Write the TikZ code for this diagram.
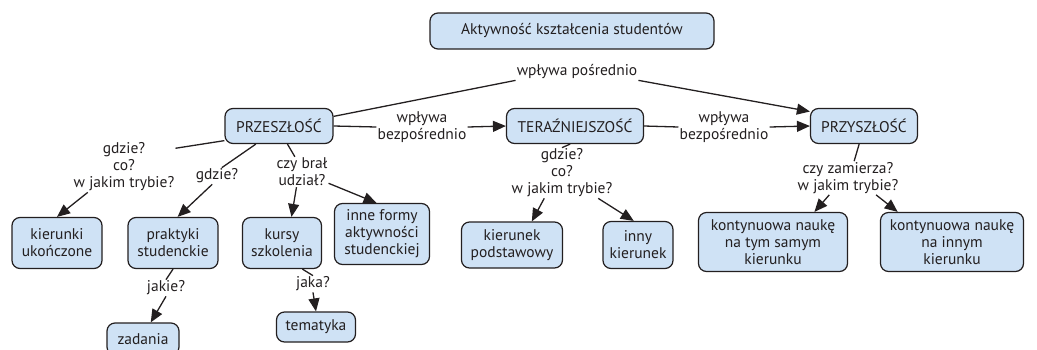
\documentclass[tikz,border=0pt]{standalone}
\usepackage{fontspec}
\setmainfont{PT Sans}
\usepackage{xcolor}
\usetikzlibrary{arrows.meta}
\definecolor{boxblue}{RGB}{207,226,245}
\definecolor{linegray}{RGB}{35,31,32}

\begin{document}
\begin{tikzpicture}[
    x=1pt, y=-1pt,
    every node/.style={font=\fontsize{15.5}{17}\selectfont, text=linegray},
    box/.style={draw=linegray, fill=boxblue, line width=1.2pt, rounded corners=8pt, align=center, inner sep=2pt},
    lab/.style={align=center, inner sep=1pt},
    link/.style={draw=linegray, line width=1.3pt},
    arr/.style={link, -{Triangle[length=13pt,width=11pt]}}
]
\useasboundingbox (0,0) rectangle (1037,349);
% boxes
\node[box, minimum width=284pt, minimum height=36pt] (top) at (572,31) {Aktywność kształcenia studentów};
\node[box, minimum width=108pt, minimum height=35pt] (prz) at (279,126) {PRZESZŁOŚĆ};
\node[box, minimum width=137pt, minimum height=35pt] (ter) at (575,126) {TERAŹNIEJSZOŚĆ};
\node[box, minimum width=107pt, minimum height=35pt] (przy) at (864,126) {PRZYSZŁOŚĆ};
\node[box, minimum width=90pt, minimum height=51pt] (kier) at (57,243) {kierunki\\ukończone};
\node[box, minimum width=90pt, minimum height=51pt] (prakt) at (173,243) {praktyki\\studenckie};
\node[box, minimum width=79pt, minimum height=51pt] (kursy) at (282,243) {kursy\\szkolenia};
\node[box, minimum width=95pt, minimum height=61pt] (inne) at (382,234) {inne formy\\aktywności\\studenckiej};
\node[box, minimum width=72pt, minimum height=32pt] (zad) at (143,339) {zadania};
\node[box, minimum width=79pt, minimum height=30pt] (tem) at (316,327) {tematyka};
\node[box, minimum width=101pt, minimum height=46pt] (kpod) at (512,245) {kierunek\\podstawowy};
\node[box, minimum width=70pt, minimum height=47pt] (inny) at (638,245) {inny\\kierunek};
\node[box, minimum width=149pt, minimum height=59pt] (kont1) at (773,242) {kontynuowa naukę\\na tym samym\\kierunku};
\node[box, minimum width=143pt, minimum height=59pt] (kont2) at (952,242) {kontynuowa naukę\\na innym\\kierunku};
% labels
\node[lab] (lposr) at (577,72) {wpływa pośrednio};
\node[lab] (lbez1) at (422,127) {wpływa\\bezpośrednio};
\node[lab] (lbez2) at (724,127) {wpływa\\bezpośrednio};
\node[lab] (lgco1) at (124,167) {gdzie?\\co?\\w jakim trybie?};
\node[lab] (lgdz) at (217,176) {gdzie?};
\node[lab] (lczy) at (302,172) {czy brał\\udział?};
\node[lab] (ljakie) at (166,288) {jakie?};
\node[lab] (ljaka) at (313,284) {jaka?};
\node[lab] (lgco2) at (562,173) {gdzie?\\co?\\w jakim trybie?};
\node[lab] (lzam) at (848,178) {czy zamierza?\\w jakim trybie?};
% connectors
\draw[link] (prz.10) -- (lposr.south west);
\draw[arr] (lposr.south east) -- (przy.165);
\draw[link] (prz.east) -- (lbez1.west);
\draw[arr] (lbez1.east) -- (ter.west);
\draw[link] (ter.east) -- (lbez2.west);
\draw[arr] (lbez2.east) -- (przy.west);
\draw[link] (prz.195) -- (lgco1.20);
\draw[arr] (lgco1.215) -- (kier.north);
\draw[link] (prz.218) -- (lgdz.60);
\draw[arr] (lgdz.240) -- (prakt.80);
\draw[link] (prz.295) -- (lczy.115);
\draw[arr] (lczy.250) -- (kursy.70);
\draw[arr] (lczy.337) -- (inne.100);
\draw[link] (prakt.south) -- (ljakie.north);
\draw[arr] (ljakie.south) -- (zad.65);
\draw[link] (kursy.308) -- (ljaka.north);
\draw[arr] (ljaka.south) -- (tem.north);
\draw[link] (ter.255) -- (lgco2.north);
\draw[arr] (lgco2.235) -- (kpod.50);
\draw[arr] (lgco2.325) -- (inny.100);
\draw[link] (przy.255) -- (lzam.70);
\draw[arr] (lzam.222) -- (kont1.36);
\draw[arr] (lzam.329) -- (kont2.151);
\end{tikzpicture}
\end{document}
